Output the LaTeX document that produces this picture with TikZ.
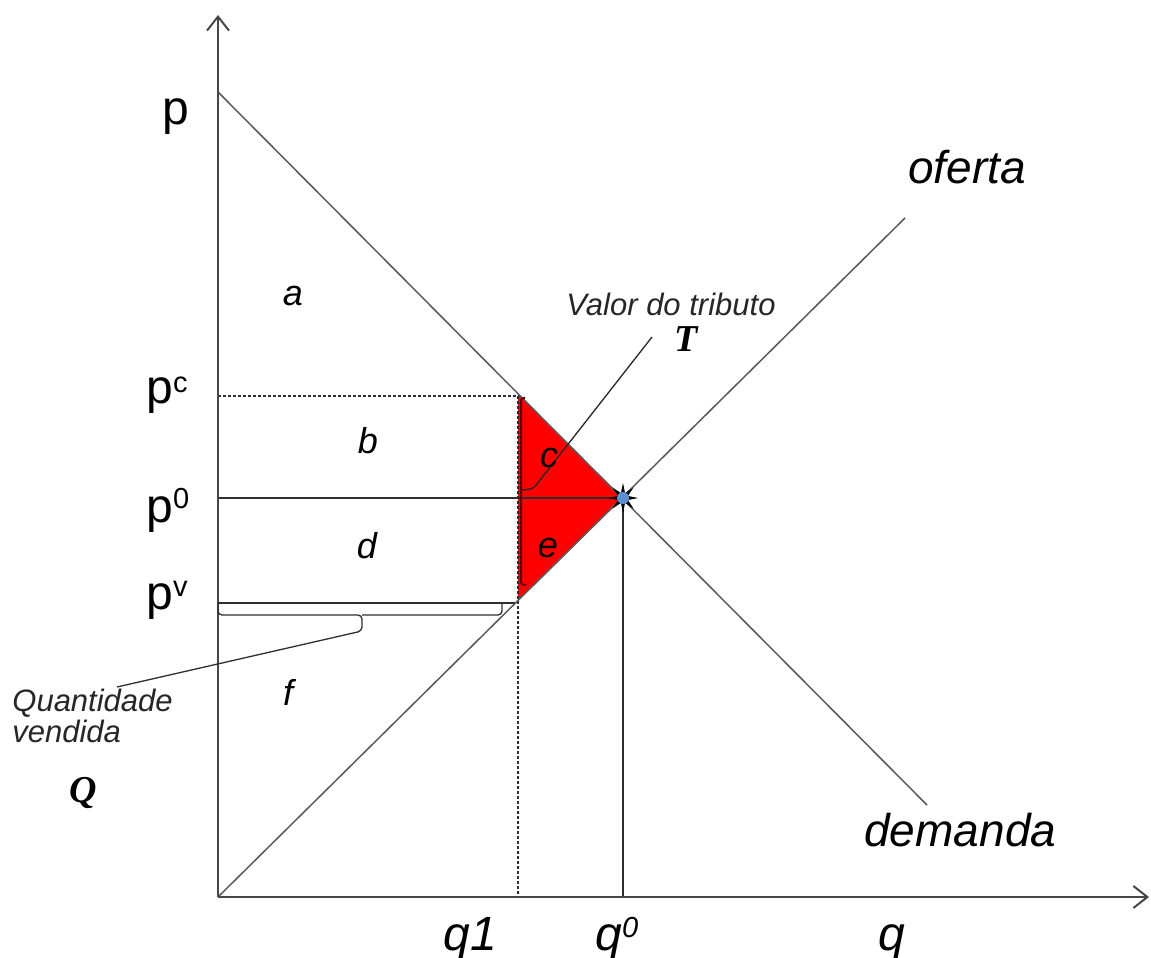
\documentclass[tikz,border=0pt]{standalone}
\usepackage{fontspec}
\setmainfont{Liberation Sans}
\newfontfamily\symfont{Liberation Serif}
\usetikzlibrary{arrows.meta,positioning,shapes.geometric}
\definecolor{eqblue}{HTML}{5B8FCF}
\definecolor{taxred}{HTML}{FF0000}
\newcommand{\supr}[2]{\raisebox{#1}{\fontsize{14.5}{14.5}\selectfont #2}}

\begin{document}
\begin{tikzpicture}[x=0.5pt,y=-0.5pt,
  >={Straight Barb[length=7pt,width=11pt]},
  axis/.style={draw=black!72,line width=1pt},
  curve/.style={draw=black!65,line width=0.75pt},
  guide/.style={draw=black!82,line width=0.65pt},
  dashline/.style={guide,dash pattern=on 1.5pt off 1pt},
  big/.style={font=\fontsize{24}{24}\selectfont,anchor=base west,inner sep=0pt},
  bigit/.style={big,font=\fontsize{24}{24}\selectfont\itshape},
  area/.style={font=\fontsize{18}{18}\selectfont\itshape,anchor=base,inner sep=0pt},
  note/.style={font=\fontsize{15.5}{15.5}\selectfont\itshape,inner sep=0pt,text=black!85},
  sym/.style={font=\fontsize{19}{19}\selectfont\symfont\bfseries\itshape,inner sep=0pt}]
\useasboundingbox (0,0) rectangle (1151,958);

% key points
\coordinate (O) at (218,897);
\coordinate (ytop) at (218,15);
\coordinate (xend) at (1149,897);
\coordinate (dtop) at (218,92);
\coordinate (dend) at (927,805);
\coordinate (send) at (905,218);
\coordinate (E) at (623,498);
\coordinate (C) at (520,396);
\coordinate (V) at (516,603);

% tax wedge
\fill[taxred] (518,396) -- (C) -- (E) -- (V) -- (518,603) -- cycle;

% price and quantity guides
\draw[dashline] (218,396) -- (C);
\draw[dashline] (518,396) -- (518,897);
\draw[guide] (218,498) -- (E);
\draw[guide] (218,603) -- (V);
\draw[guide] (E) -- (623,897);

% supply and demand
\draw[curve] (dtop) -- (dend);
\draw[curve] (O) -- (send);

% axes
\draw[axis,->] (O) -- (ytop);
\draw[axis,->] (O) -- (xend);

% equilibrium
\node[star,star points=8,star point ratio=2.8,minimum size=15pt,
  inner sep=0pt,fill=black] (eq) at (E) {};
\fill[eqblue] (E) circle[radius=3pt];

% brace of the tax
\draw[red!40!black,line width=1.1pt,rounded corners=1.5pt]
  (525,398) -- (521,398) -- (521,585) -- (526,585);
\draw[black!85,line width=0.65pt,rounded corners=2pt]
  (521,490) -- (533,489) -- (652,337);

% brace of the quantity sold
\draw[guide,rounded corners=2pt]
  (218,602) -- (218,615) -- (362,615) -- (362,631) -- (117,687);
\draw[guide,rounded corners=2pt] (502,602) -- (502,615) -- (362,615);

% axis labels
\node[big] (p) at (162,124) {p};
\node[big] (pc) at (146,403) {p\supr{5.5pt}{c}};
\node[big] (p0) at (146,522) {p\supr{7pt}{0}};
\node[big] (pv) at (146,609) {p\supr{6.5pt}{v}};
\node[bigit] (q1) at (443,950) {q1};
\node[bigit] (q0) at (595,950) {q\supr{6.5pt}{0}};
\node[bigit] (q) at (878,950) {q};
\node[bigit,font=\fontsize{23}{23}\selectfont\itshape] (oferta) at (908,183) {oferta};
\node[bigit,font=\fontsize{23}{23}\selectfont\itshape] (demanda) at (864,846) {demanda};

% areas
\node[area] (a) at (293,305) {a};
\node[area] (b) at (368,453) {b};
\node[area] (c) at (549,467) {c};
\node[area] (d) at (367,558) {d};
\node[area] (e) at (548,557) {e};
\node[area] (f) at (288,705) {f};

% notes
\node[note,anchor=base] (val) at (671,315) {Valor do tributo};
\node[sym,below=5pt of val,xshift=7.5pt] (T) {T};
\node[note,anchor=north west,align=left] (qty) at (12,689)
  {Quantidade\\vendida};
\node[sym,anchor=base] (Q) at (83,802) {Q};
\end{tikzpicture}
\end{document}
